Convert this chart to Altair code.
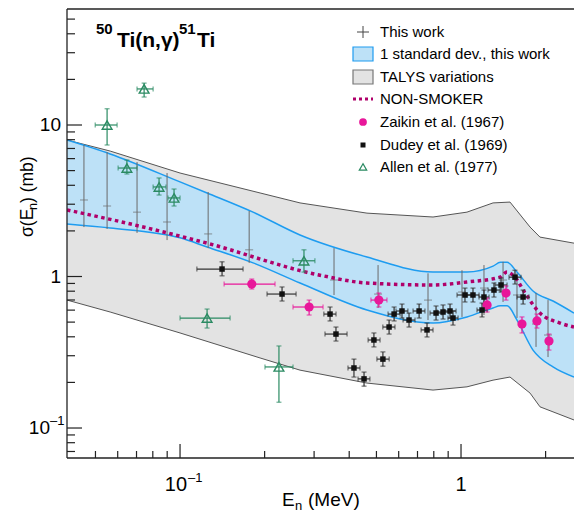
import altair as alt
import pandas as pd

# ---------------- data ----------------
# TALYS variations band
talys_e = [0.0396, 0.0564, 0.1, 0.1927, 0.2673, 0.4627, 0.795, 1.05, 1.30, 1.494, 1.761, 1.91, 2.524]
talys_lo = [0.699, 0.583, 0.424, 0.290, 0.241, 0.198, 0.178, 0.187, 0.207, 0.217, 0.170, 0.138, 0.113]
talys_hi = [7.96, 6.73, 4.82, 3.56, 3.06, 2.62, 2.47, 2.66, 3.06, 3.10, 2.12, 1.82, 1.66]

# 1 standard deviation band, this work
std_e = [0.0396, 0.0564, 0.1, 0.1248, 0.1819, 0.2673, 0.4627, 0.795, 1.05, 1.30, 1.38, 1.46, 1.582, 1.804, 2.125, 2.524]
std_lo = [2.22, 2.09, 1.80, 1.566, 1.23, 0.906, 0.601, 0.493, 0.541, 0.620, 0.640, 0.640, 0.516, 0.327, 0.253, 0.217]
std_hi = [7.96, 6.44, 4.21, 3.56, 2.66, 1.88, 1.345, 1.07, 1.07, 1.17, 1.24, 1.24, 1.07, 0.802, 0.689, 0.574]

# NON-SMOKER
ns_e = [0.0396, 0.0647, 0.1248, 0.3148, 0.4627, 0.795, 1.05, 1.377, 1.458, 1.556, 1.690, 1.910, 2.251, 2.524]
ns_s = [2.75, 2.25, 1.66, 1.02, 0.906, 0.879, 0.920, 0.99, 1.07, 0.99, 0.778, 0.574, 0.493, 0.464]

# This work
tw_e = [0.0455, 0.055, 0.0703, 0.0899, 0.1259, 0.1762, 0.3532, 0.5067, 0.763, 1.008, 1.207, 1.411, 1.582, 1.849, 2.040]
tw_s = [3.20, 2.92, 2.66, 2.29, 1.91, 1.50, 0.948, 0.766, 0.699, 0.790, 0.839, 0.948, 0.755, 0.486, 0.411]
tw_lo = [2.12, 2.06, 1.94, 1.74, 1.54, 1.23, 0.755, 0.620, 0.516, 0.541, 0.557, 0.679, 0.532, 0.343, 0.294]
tw_hi = [7.38, 6.63, 5.70, 4.82, 3.61, 2.71, 1.54, 1.19, 1.05, 1.10, 1.19, 1.25, 1.05, 0.778, 0.699]

# Zaikin et al. (1967)
z_e = [0.180, 0.288, 0.510, 1.238, 1.446, 1.648, 1.863, 2.056]
z_s = [0.892, 0.629, 0.699, 0.649, 0.778, 0.486, 0.509, 0.375]
z_elo = [0.1435, 0.2524, 0.478, 1.21, 1.41, 1.61, 1.82, 2.01]
z_ehi = [0.2178, 0.3228, 0.545, 1.27, 1.48, 1.69, 1.91, 2.10]
z_slo = [0.827, 0.557, 0.629, 0.583, 0.699, 0.424, 0.457, 0.327]
z_shi = [0.962, 0.699, 0.778, 0.721, 0.866, 0.541, 0.565, 0.417]

# Dudey et al. (1969)
d_e = [0.1411, 0.2307, 0.3419, 0.3589, 0.4159, 0.4517, 0.4898, 0.5272, 0.5546, 0.5779, 0.6165, 0.6531, 0.7093,
       0.7568, 0.8149, 0.863, 0.9139, 0.9364, 1.033, 1.103, 1.207, 1.188, 1.31, 1.388, 1.556, 1.663]
d_s = [1.12, 0.766, 0.565, 0.417, 0.249, 0.211, 0.381, 0.285, 0.464, 0.565, 0.592, 0.516, 0.592,
       0.444, 0.574, 0.583, 0.592, 0.532, 0.755, 0.755, 0.732, 0.601, 0.814, 0.879, 0.99, 0.732]
d_elo = [0.1148, 0.204, 0.325, 0.328, 0.396, 0.430, 0.467, 0.502, 0.527, 0.550, 0.587, 0.622, 0.675,
         0.721, 0.776, 0.822, 0.870, 0.899, 0.968, 1.05, 1.159, 1.14, 1.248, 1.321, 1.482, 1.582]
d_ehi = [0.1676, 0.2588, 0.359, 0.393, 0.437, 0.474, 0.515, 0.555, 0.582, 0.607, 0.647, 0.686, 0.744,
         0.795, 0.856, 0.906, 0.960, 0.976, 1.103, 1.159, 1.258, 1.238, 1.377, 1.458, 1.635, 1.745]
d_slo = [1.01, 0.689, 0.509, 0.375, 0.217, 0.189, 0.343, 0.256, 0.417, 0.509, 0.532, 0.464, 0.532,
         0.399, 0.516, 0.524, 0.532, 0.478, 0.679, 0.679, 0.658, 0.541, 0.732, 0.790, 0.892, 0.658]
d_shi = [1.25, 0.853, 0.629, 0.464, 0.285, 0.234, 0.424, 0.318, 0.516, 0.629, 0.658, 0.574, 0.658,
         0.493, 0.639, 0.649, 0.658, 0.592, 0.839, 0.839, 0.814, 0.668, 0.906, 0.977, 1.10, 0.814]

# Allen et al. (1977)
a_e = [0.055, 0.0745, 0.0647, 0.0842, 0.0952, 0.2761, 0.1248, 0.2249]
a_s = [10.0, 17.3, 5.20, 3.90, 3.30, 1.27, 0.532, 0.253]
a_elo = [0.0499, 0.0703, 0.0602, 0.0802, 0.0906, 0.2524, 0.1, 0.2006]
a_ehi = [0.0597, 0.0802, 0.0703, 0.0891, 0.1, 0.302, 0.1507, 0.2524]
a_slo = [7.38, 15.3, 4.75, 3.45, 2.92, 1.07, 0.457, 0.148]
a_shi = [12.8, 18.9, 5.87, 4.47, 3.78, 1.50, 0.610, 0.348]

# axis ticks
x_major = [0.1, 1]
x_minor = [0.05, 0.06, 0.07, 0.08, 0.09, 0.2, 0.3, 0.4, 0.5, 0.6, 0.7, 0.8, 0.9, 2]
y_major = [0.1, 1, 10]
y_minor = [0.07, 0.08, 0.09, 0.2, 0.3, 0.4, 0.5, 0.6, 0.7, 0.8, 0.9,
           2, 3, 4, 5, 6, 7, 8, 9, 20, 30, 40, 50]

legend_labels = ["This work", "1 standard dev., this work", "TALYS variations", "NON-SMOKER",
                 "Zaikin et al. (1967)", "Dudey et al. (1969)", "Allen et al. (1977)"]

# ---------------- styling ----------------
W, H = 507, 449
FONT = "Liberation Sans"
XS = alt.Scale(type="log", domain=[0.0396, 2.524], nice=False)
YS = alt.Scale(type="log", domain=[0.0634, 58.3], nice=False)

C_GRAYFILL = "#e3e3e3"
C_GRAYLINE = "#555555"
C_BLUEFILL = "#bde1f7"
C_BLUELINE = "#1e9cf0"
C_NS = "#b0006a"
C_Z = "#e8179a"
C_D = "#111111"
C_A = "#2a8a62"
C_TW = "#6a6a6a"


def X(f):
    return alt.X(f, type="quantitative", scale=XS, axis=None)


def Y(f):
    return alt.Y(f, type="quantitative", scale=YS, axis=None)


talys = pd.DataFrame({"e": talys_e, "lo": talys_lo, "hi": talys_hi})
std = pd.DataFrame({"e": std_e, "lo": std_lo, "hi": std_hi})
ns = pd.DataFrame({"e": ns_e, "s": ns_s})
tw = pd.DataFrame({"e": tw_e, "s": tw_s, "lo": tw_lo, "hi": tw_hi})


def exp_df(name, e, s, elo, ehi, slo, shi):
    return pd.DataFrame({"ser": name, "e": e, "s": s, "elo": elo, "ehi": ehi, "slo": slo, "shi": shi})


exp = pd.concat([
    exp_df("Zaikin", z_e, z_s, z_elo, z_ehi, z_slo, z_shi),
    exp_df("Dudey", d_e, d_s, d_elo, d_ehi, d_slo, d_shi),
    exp_df("Allen", a_e, a_s, a_elo, a_ehi, a_slo, a_shi),
], ignore_index=True)
ser_color = alt.Color("ser:N", scale=alt.Scale(domain=["Zaikin", "Dudey", "Allen"],
                                               range=[C_Z, "#333333", C_A]), legend=None)

layers = []

# TALYS band
layers.append(alt.Chart(talys).mark_area(color=C_GRAYFILL, clip=True).encode(x=X("e"), y=Y("lo"), y2=alt.Y2("hi")))
layers.append(alt.Chart(talys).mark_line(color=C_GRAYLINE, strokeWidth=1, clip=True).encode(x=X("e"), y=Y("lo")))
layers.append(alt.Chart(talys).mark_line(color=C_GRAYLINE, strokeWidth=1, clip=True).encode(x=X("e"), y=Y("hi")))
# 1 sigma band
layers.append(alt.Chart(std).mark_area(color=C_BLUEFILL, clip=True, interpolate="monotone")
              .encode(x=X("e"), y=Y("lo"), y2=alt.Y2("hi")))
layers.append(alt.Chart(std).mark_line(color=C_BLUELINE, strokeWidth=1.5, clip=True, interpolate="monotone")
              .encode(x=X("e"), y=Y("lo")))
layers.append(alt.Chart(std).mark_line(color=C_BLUELINE, strokeWidth=1.5, clip=True, interpolate="monotone")
              .encode(x=X("e"), y=Y("hi")))
# This work
layers.append(alt.Chart(tw).mark_rule(color=C_TW, strokeWidth=1).encode(x=X("e"), y=Y("lo"), y2=alt.Y2("hi")))
layers.append(alt.Chart(tw).mark_tick(orient="horizontal", size=8, thickness=1, color=C_TW).encode(x=X("e"), y=Y("s")))
# NON-SMOKER
layers.append(alt.Chart(ns).mark_line(color=C_NS, strokeWidth=3.5, strokeDash=[3.5, 3.5], clip=True,
                                      interpolate="monotone")
              .encode(x=X("e"), y=Y("s")))
# experimental error bars
layers.append(alt.Chart(exp).mark_rule(strokeWidth=1.2).encode(x=X("elo"), x2=alt.X2("ehi"), y=Y("s"), color=ser_color))
layers.append(alt.Chart(exp).mark_rule(strokeWidth=1.2).encode(x=X("e"), y=Y("slo"), y2=alt.Y2("shi"), color=ser_color))
for f in ["elo", "ehi"]:
    layers.append(alt.Chart(exp).mark_tick(orient="vertical", size=5, thickness=1.2)
                  .encode(x=X(f), y=Y("s"), color=ser_color))
for f in ["slo", "shi"]:
    layers.append(alt.Chart(exp).mark_tick(orient="horizontal", size=5, thickness=1.2)
                  .encode(x=X("e"), y=Y(f), color=ser_color))
# experimental points
layers.append(alt.Chart(exp).transform_filter(alt.datum.ser == "Zaikin")
              .mark_circle(size=85, color=C_Z, opacity=1).encode(x=X("e"), y=Y("s")))
layers.append(alt.Chart(exp).transform_filter(alt.datum.ser == "Dudey")
              .mark_square(size=30, color=C_D, opacity=1).encode(x=X("e"), y=Y("s")))
layers.append(alt.Chart(exp).transform_filter(alt.datum.ser == "Allen")
              .mark_point(shape="triangle-up", size=95, filled=False, color=C_A, strokeWidth=1.4, opacity=1)
              .encode(x=X("e"), y=Y("s")))

# ---------------- frame & ticks ----------------
one = alt.Data(values=[{"a": 1}])
FRAME = "#222222"
layers.append(alt.Chart(one).mark_rule(color=FRAME, strokeWidth=1.3).encode(
    x=alt.value(0), y=alt.value(0), y2=alt.value(H)))
layers.append(alt.Chart(one).mark_rule(color=FRAME, strokeWidth=1.3).encode(
    x=alt.value(0), x2=alt.value(W), y=alt.value(0)))
layers.append(alt.Chart(one).mark_rule(color=FRAME, strokeWidth=1.3).encode(
    x=alt.value(0), x2=alt.value(W), y=alt.value(H)))

layers.append(alt.Chart(pd.DataFrame({"v": y_major})).mark_rule(color=FRAME, strokeWidth=1.2).encode(
    y=Y("v"), x=alt.value(0), x2=alt.value(15)))
layers.append(alt.Chart(pd.DataFrame({"v": y_minor})).mark_rule(color=FRAME, strokeWidth=1.2).encode(
    y=Y("v"), x=alt.value(0), x2=alt.value(8)))
layers.append(alt.Chart(pd.DataFrame({"v": x_major})).mark_rule(color=FRAME, strokeWidth=1.2).encode(
    x=X("v"), y=alt.value(H), y2=alt.value(H - 14)))
layers.append(alt.Chart(pd.DataFrame({"v": x_minor})).mark_rule(color=FRAME, strokeWidth=1.2).encode(
    x=X("v"), y=alt.value(H), y2=alt.value(H - 7)))

# tick labels
TL = 19
ylab = pd.DataFrame({"v": [10, 1], "t": ["10", "1"]})
layers.append(alt.Chart(ylab).mark_text(align="right", baseline="middle", font=FONT, fontSize=TL, color="black")
              .encode(y=Y("v"), x=alt.value(-6), text="t:N"))
ylab2 = pd.DataFrame({"v": [0.1], "t": ["10"], "s": ["\u20131"]})
layers.append(alt.Chart(ylab2).mark_text(align="right", baseline="middle", font=FONT, fontSize=TL, color="black")
              .encode(y=Y("v"), x=alt.value(-17), text="t:N"))
layers.append(alt.Chart(ylab2).mark_text(align="left", baseline="middle", font=FONT, fontSize=13, color="black", dy=-7)
              .encode(y=Y("v"), x=alt.value(-17), text="s:N"))

xlab = pd.DataFrame({"v": [0.1], "t": ["10"], "s": ["\u20131"]})
layers.append(alt.Chart(xlab).mark_text(align="right", baseline="alphabetic", font=FONT, fontSize=20, color="black", dx=7)
              .encode(x=X("v"), y=alt.value(482), text="t:N"))
layers.append(alt.Chart(xlab).mark_text(align="left", baseline="alphabetic", font=FONT, fontSize=13, color="black", dx=8)
              .encode(x=X("v"), y=alt.value(473), text="s:N"))
xlab1 = pd.DataFrame({"v": [1], "t": ["1"]})
layers.append(alt.Chart(xlab1).mark_text(align="center", baseline="alphabetic", font=FONT, fontSize=20, color="black")
              .encode(x=X("v"), y=alt.value(482), text="t:N"))


def txt(s, x, y, size, align="left", baseline="alphabetic", bold=False, angle=0, color="black"):
    kw = dict(text=s, align=align, baseline=baseline, font=FONT, fontSize=size, color=color)
    if bold:
        kw["fontWeight"] = "bold"
    if angle:
        kw["angle"] = angle
    return alt.Chart(one).mark_text(**kw).encode(x=alt.value(x), y=alt.value(y))


# axis titles
layers.append(txt("E", 215, 497, 19))
layers.append(txt("n", 228, 501, 13))
layers.append(txt("(MeV)", 241, 497, 19))
layers.append(txt("\u03c3(E", -34, 228, 17.5, angle=270))
layers.append(txt("n", -30, 201, 12.5, angle=270))
layers.append(txt(") (mb)", -34, 194, 17.5, angle=270))

# reaction label
layers.append(txt("50", 29, 25, 15, bold=True))
layers.append(txt("Ti(n,\u03b3)", 50, 38, 21, bold=True))
layers.append(txt("51", 112, 25, 15, bold=True))
layers.append(txt("Ti", 130, 38, 21, bold=True))

# ---------------- legend ----------------
LX, TX = 296, 313
rows = [23, 45, 68, 90, 113, 136, 158]
layers.append(alt.Chart(one).mark_rule(color="#444", strokeWidth=1).encode(
    x=alt.value(LX - 6), x2=alt.value(LX + 6), y=alt.value(rows[0])))
layers.append(alt.Chart(one).mark_rule(color="#444", strokeWidth=1).encode(
    x=alt.value(LX), y=alt.value(rows[0] - 6), y2=alt.value(rows[0] + 6)))
layers.append(alt.Chart(one).mark_rect(fill=C_BLUEFILL, stroke=C_BLUELINE, strokeWidth=1.2).encode(
    x=alt.value(LX - 10), x2=alt.value(LX + 10), y=alt.value(rows[1] - 7), y2=alt.value(rows[1] + 7)))
layers.append(alt.Chart(one).mark_rect(fill=C_GRAYFILL, stroke="#777", strokeWidth=1.2).encode(
    x=alt.value(LX - 10), x2=alt.value(LX + 10), y=alt.value(rows[2] - 7), y2=alt.value(rows[2] + 7)))
layers.append(alt.Chart(one).mark_rule(color=C_NS, strokeWidth=3, strokeDash=[3, 3]).encode(
    x=alt.value(LX - 10), x2=alt.value(LX + 10), y=alt.value(rows[3])))
layers.append(alt.Chart(one).mark_circle(size=60, color=C_Z, opacity=1).encode(
    x=alt.value(LX), y=alt.value(rows[4])))
layers.append(alt.Chart(one).mark_square(size=25, color=C_D, opacity=1).encode(
    x=alt.value(LX), y=alt.value(rows[5])))
layers.append(alt.Chart(one).mark_point(shape="triangle-up", size=55, filled=False, color=C_A, strokeWidth=1.2,
                                        opacity=1).encode(x=alt.value(LX), y=alt.value(rows[6])))
for lab, ry in zip(legend_labels, rows):
    layers.append(txt(lab, TX, ry, 15, baseline="middle"))

chart = alt.layer(*layers).properties(
    width=W, height=H,
    autosize=alt.AutoSizeParams(type="none"),
    padding={"left": 67, "top": 9, "right": 0, "bottom": 54},
    background="white",
).configure_view(strokeWidth=0)

chart.save("out.html", embed_options={"renderer": "svg", "actions": False})
